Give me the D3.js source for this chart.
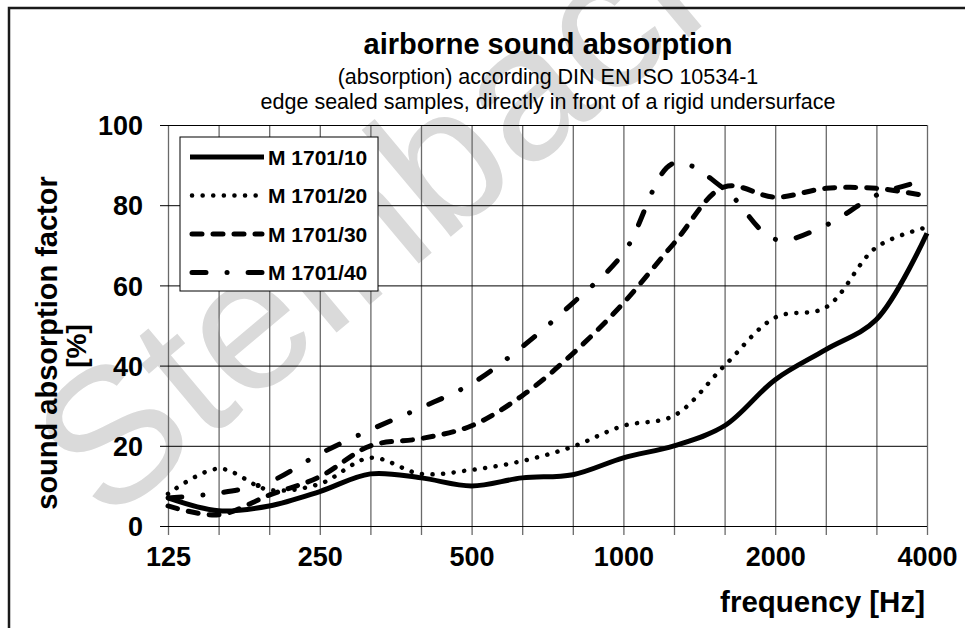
<!DOCTYPE html>
<html>
<head>
<meta charset="utf-8">
<script src="https://cdn.jsdelivr.net/npm/d3@7"></script>
<style>
  body { margin: 0; background: #fff; }
  text { font-family: 'Liberation Sans', Arial, sans-serif; }
</style>
</head>
<body>
<div id="chart"></div>
<script>
// 1/3 octave band centre frequencies
const frequencies = ['125', '160', '200', '250', '315', '400', '500', '630', '800',
  '1000', '1250', '1600', '2000', '2500', '3150', '4000'];
const labelledFrequencies = ['125', '250', '500', '1000', '2000', '4000'];
const yTicks = [0, 20, 40, 60, 80, 100];

const seriesNames = ['M 1701/10', 'M 1701/20', 'M 1701/30', 'M 1701/40'];
const m1701_10 = [7, 3.8, 5, 8.6, 13, 12, 10, 12, 12.8, 17, 20, 25, 36.5, 44, 51.5, 73];
const m1701_20 = [8, 14.3, 9, 10.5, 17, 13, 14, 16.2, 19.8, 25, 27.5, 40, 52, 54.5, 69.5, 74.5];
const m1701_30 = [5, 2.8, 7.7, 12.3, 20, 21.8, 25, 32.5, 43, 55.6, 70.5, 84.6, 82, 84.2, 84.2, 82.3];
const m1701_40 = [7, 8.2, 11, 18, 24, 29.5, 35.5, 44.7, 55.6, 68, 90.5, 84, 71.5, 75, 82.5, 86.3];

const dashes = ['none', '0.1,10.5', '10,11', '14,21,0.1,21'];

const W = 965;
const H = 628;
const margin = { top: 125, right: 38, bottom: 102, left: 168 };
const width = W - margin.left - margin.right;
const height = H - margin.top - margin.bottom;

const svg = d3.select('#chart').append('svg')
    .attr('width', W)
    .attr('height', H);

svg.append('rect')
    .attr('width', W)
    .attr('height', H)
    .attr('fill', '#fff');

// watermark
svg.append('text')
    .attr('transform', 'translate(106,526) rotate(-40)')
    .attr('font-size', 192)
    .attr('fill', '#dadada')
    .text('Steinbach');

// outer frame
svg.append('rect')
    .attr('x', 9)
    .attr('y', 8)
    .attr('width', W + 20)
    .attr('height', H + 20)
    .attr('fill', 'none')
    .attr('stroke', '#1a1a1a')
    .attr('stroke-width', 2.5);

svg.append('text')
    .attr('x', 548)
    .attr('y', 54)
    .attr('text-anchor', 'middle')
    .attr('font-size', 29)
    .attr('font-weight', 'bold')
    .text('airborne sound absorption');

svg.append('text')
    .attr('x', 548)
    .attr('y', 84)
    .attr('text-anchor', 'middle')
    .attr('font-size', 21.5)
    .text('(absorption) according DIN EN ISO 10534-1');

svg.append('text')
    .attr('x', 548)
    .attr('y', 109)
    .attr('text-anchor', 'middle')
    .attr('font-size', 21.5)
    .text('edge sealed samples, directly in front of a rigid undersurface');

const x = d3.scalePoint()
    .domain(frequencies)
    .range([margin.left, margin.left + width]);

const y = d3.scaleLinear()
    .domain([0, 100])
    .range([margin.top + height, margin.top]);

const xAxis = d3.axisBottom(x)
    .tickSize(height + 9)
    .tickPadding(12)
    .tickFormat((d) => (labelledFrequencies.includes(d) ? d : ''));

const yAxis = d3.axisLeft(y)
    .tickValues(yTicks)
    .tickSize(width + 8)
    .tickPadding(17);

const gx = svg.append('g')
    .attr('transform', `translate(0,${margin.top})`)
    .call(xAxis);
gx.select('.domain').remove();
gx.selectAll('line')
    .attr('stroke', '#6a6a6a')
    .attr('stroke-width', 1.3);
gx.selectAll('text')
    .attr('font-size', 27)
    .attr('font-weight', 'bold')
    .attr('fill', '#000');

const gy = svg.append('g')
    .attr('transform', `translate(${margin.left + width},0)`)
    .call(yAxis);
gy.select('.domain').remove();
gy.selectAll('line')
    .attr('stroke', '#000')
    .attr('stroke-width', 1);
gy.selectAll('text')
    .attr('font-size', 27)
    .attr('font-weight', 'bold')
    .attr('fill', '#000')
    .attr('dy', '0.36em');

svg.append('text')
    .attr('x', margin.left + width - 2)
    .attr('y', 612)
    .attr('text-anchor', 'end')
    .attr('font-size', 29.5)
    .attr('font-weight', 'bold')
    .text('frequency [Hz]');

svg.append('text')
    .attr('transform', 'translate(57,343) rotate(-90)')
    .attr('text-anchor', 'middle')
    .attr('font-size', 29)
    .attr('font-weight', 'bold')
    .text('sound absorption factor');

svg.append('text')
    .attr('transform', 'translate(86,346) rotate(-90)')
    .attr('text-anchor', 'middle')
    .attr('font-size', 28)
    .attr('font-weight', 'bold')
    .text('[%]');

const series = [m1701_10, m1701_20, m1701_30, m1701_40].map((values, i) => ({
  name: seriesNames[i],
  dash: dashes[i],
  values: values.map((v, j) => ({ f: frequencies[j], v })),
}));

const line = d3.line()
    .x((d) => x(d.f))
    .y((d) => y(d.v))
    .curve(d3.curveCatmullRom.alpha(0.5));

svg.append('g')
    .selectAll('path')
    .data(series)
  .enter()
    .append('path')
    .attr('d', (d) => line(d.values))
    .attr('fill', 'none')
    .attr('stroke', '#000')
    .attr('stroke-width', (d, i) => (i === 1 ? 4.5 : 5))
    .attr('stroke-linecap', (d, i) => (i === 0 ? 'butt' : 'round'))
    .attr('stroke-dasharray', (d) => d.dash);

// legend
const legend = svg.append('g')
    .attr('transform', 'translate(180,137)');

legend.append('rect')
    .attr('width', 198)
    .attr('height', 154)
    .attr('fill', '#fff')
    .attr('stroke', '#000')
    .attr('stroke-width', 1);

const item = legend.selectAll('.item')
    .data(series)
  .enter()
    .append('g')
    .attr('class', 'item')
    .attr('transform', (d, i) => `translate(0,${20 + i * 38.5})`);

item.append('line')
    .attr('x1', (d, i) => (i === 0 ? 10 : 12))
    .attr('x2', (d, i) => (i === 0 ? 84 : 82))
    .attr('stroke', '#000')
    .attr('stroke-width', (d, i) => (i === 1 ? 4.5 : 5))
    .attr('stroke-linecap', (d, i) => (i === 0 ? 'butt' : 'round'))
    .attr('stroke-dasharray', (d) => d.dash);

item.append('text')
    .attr('x', 88)
    .attr('dy', '0.36em')
    .attr('font-size', 21)
    .attr('font-weight', 'bold')
    .text((d) => d.name);
</script>
</body>
</html>
